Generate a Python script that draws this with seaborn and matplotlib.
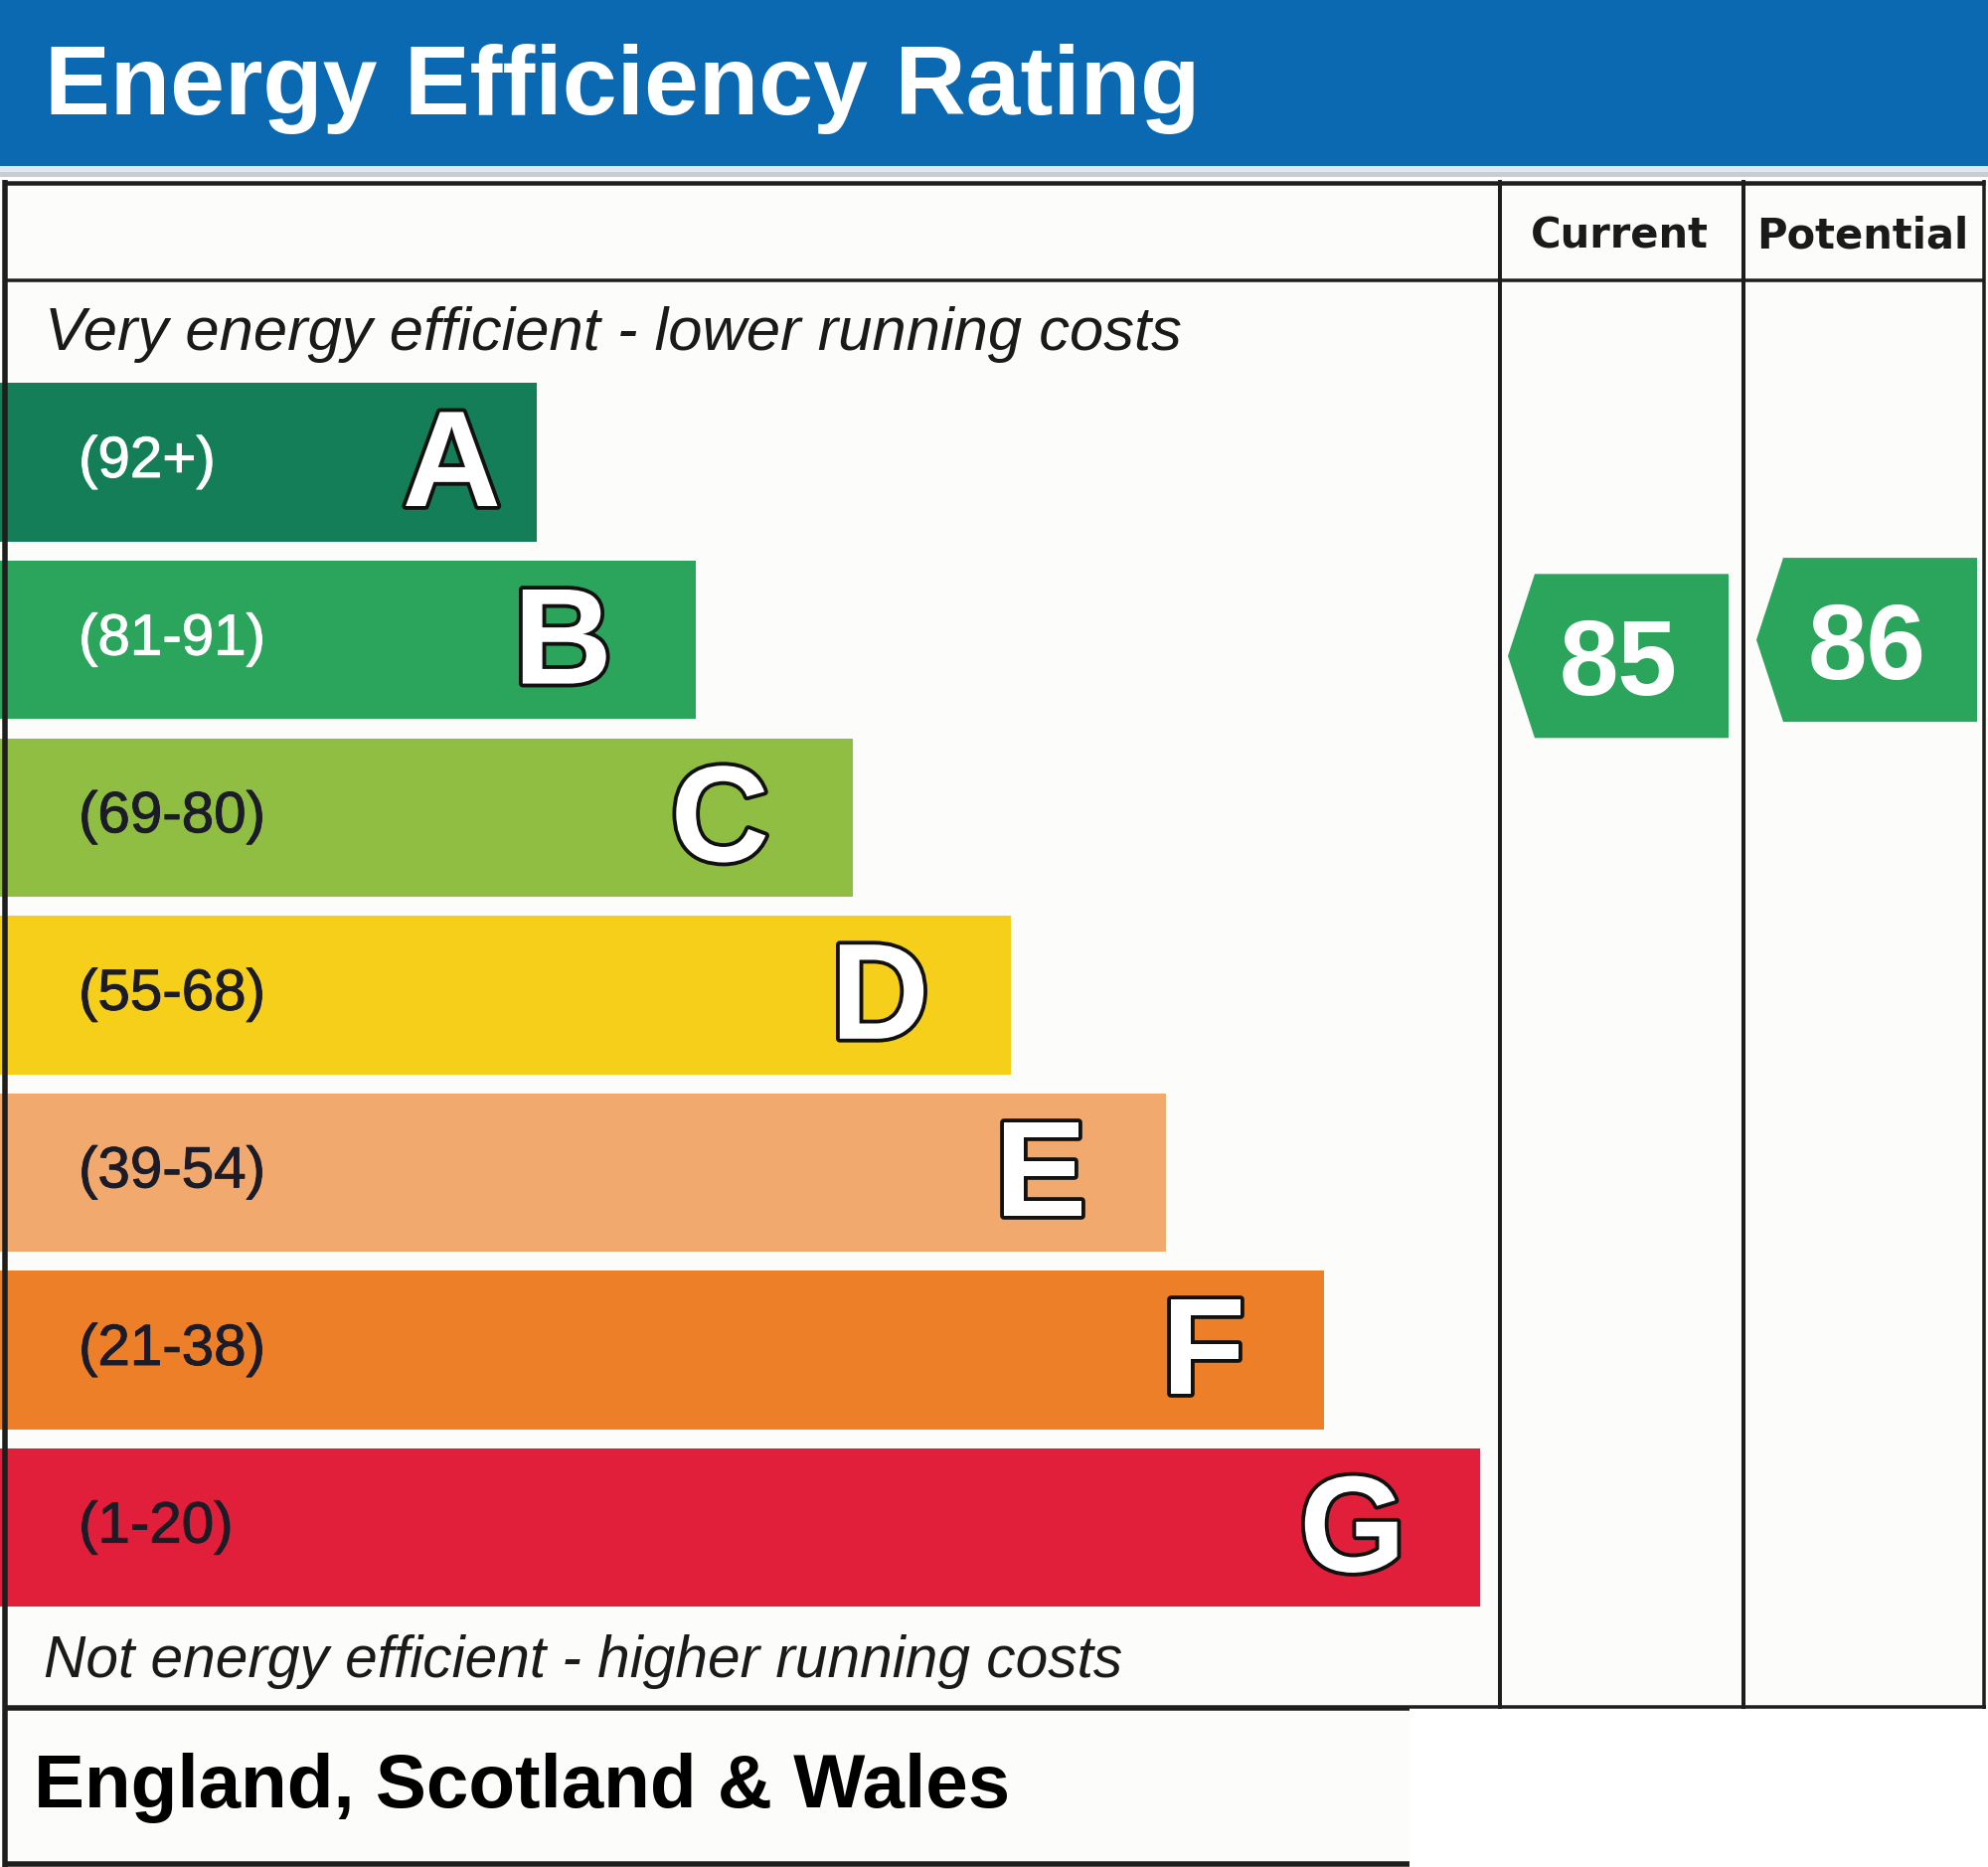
import matplotlib
matplotlib.use("Agg")
import matplotlib.pyplot as plt
import seaborn as sns
import pandas as pd
from matplotlib import patheffects as pe
from matplotlib.patches import Rectangle, Polygon

# ---------------- data ----------------
bands = ["A", "B", "C", "D", "E", "F", "G"]
band_ranges = ["(92+)", "(81-91)", "(69-80)", "(55-68)", "(39-54)", "(21-38)", "(1-20)"]
band_lo = [92, 81, 69, 55, 39, 21, 1]
band_hi = [100, 91, 80, 68, 54, 38, 20]
band_colors = ["#137e57", "#2ba55c", "#8fbe42", "#f5cf19", "#f2a96d", "#ec7f28", "#e11f3b"]
range_text_colors = ["white", "white", "#1c1c28", "#1c1c28", "#1c1c28", "#1c1c28", "#1c1c28"]
bar_ends = [540, 700, 858, 1017, 1173, 1332, 1489]   # bar lengths (px of the 2000 px wide canvas)
letter_inset = [36, 84, 84, 82, 80, 79, 75]

header_labels = ["Current", "Potential"]
ratings = [85, 86]               # current, potential
title = "Energy Efficiency Rating"
top_note = "Very energy efficient - lower running costs"
bottom_note = "Not energy efficient - higher running costs"
footer = "England, Scotland & Wales"

# ---------------- layout ----------------
W, H = 2000, 1878
LINE = "#1e1e1e"
PAPER = "#fcfcfa"
col_left = [1509, 1754]
col_right = [1754, 1997]

sns.set_theme(style="white")
plt.rcParams["font.family"] = ["Liberation Sans", "DejaVu Sans"]

fig = plt.figure(figsize=(W / 100, H / 100), dpi=100, facecolor="white")

bg = fig.add_axes([0, 0, 1, 1], zorder=0)
bg.set_xlim(0, W)
bg.set_ylim(H, 0)
bg.axis("off")

# paper areas
bg.add_patch(Rectangle((0, 182), W, 1535, color=PAPER, lw=0))
bg.add_patch(Rectangle((0, 1717), 1418, H - 1717, color=PAPER, lw=0))
# title band
bg.add_patch(Rectangle((0, 0), W, 167, color="#0b69b1", lw=0))
bg.add_patch(Rectangle((0, 167), W, 6, color="#dfe8f2", lw=0))
bg.add_patch(Rectangle((0, 173), W, 5, color="#c9ccd0", lw=0))
bg.text(45, 115, title, fontsize=71, weight="bold", color="white", va="baseline", ha="left")

# notes & footer
bg.text(45, 352, top_note, fontsize=44.3, style="italic", color="#1a1a1a", va="baseline")
bg.text(44, 1687, bottom_note, fontsize=42.2, style="italic", color="#1a1a1a", va="baseline")
bg.text(34, 1818, footer, fontsize=55, weight="bold", color="black", va="baseline")

# headers
for lab, l, r in zip(header_labels, col_left, col_right):
    bg.text((l + r) / 2 - 2, 250, lab, fontsize=30, weight="bold", color="#1a1a1a",
            family="DejaVu Sans", ha="center", va="baseline")

# ---------------- bars ----------------
pitch = 178.6
top_px = 465 - pitch / 2
bot_px = 465 + 6 * pitch + pitch / 2
bar_ax = fig.add_axes([0, 1 - bot_px / H, 1, (bot_px - top_px) / H], zorder=2)
bar_ax.patch.set_alpha(0)

df = pd.DataFrame({"band": bands, "end": bar_ends})
sns.barplot(data=df, x="end", y="band", hue="band", palette=band_colors, orient="h",
            width=159.4 / pitch, saturation=1, legend=False, ax=bar_ax, linewidth=0)
bar_ax.set_xlim(0, W)
bar_ax.set_ylim(6.5, -0.5)
bar_ax.axis("off")

lift = 6 / pitch
for i, (b, rng, end, ins, tc) in enumerate(zip(bands, band_ranges, bar_ends, letter_inset, range_text_colors)):
    bar_ax.text(79, i - lift, rng, fontsize=42, color=tc, ha="left", va="center_baseline",
                path_effects=[pe.withStroke(linewidth=0.7, foreground=tc)])
    bar_ax.text(end - ins, i - lift, b, fontsize=99, weight="bold", color="white", ha="right",
                va="center_baseline",
                path_effects=[pe.withStroke(linewidth=5.5, foreground="#111111")])


def rating_pos(v):
    for i, (lo, hi) in enumerate(zip(band_lo, band_hi)):
        if lo <= v <= hi:
            return i - 0.5 + (hi + 0.5 - v) / (hi - lo + 1)
    return 6.0


def band_of(v):
    for i, (lo, hi) in enumerate(zip(band_lo, band_hi)):
        if lo <= v <= hi:
            return i
    return 6


hh = 82.5 / pitch
arrow_geom = [(1517, 1544, 1739), (1767, 1794, 1989)]
for v, (tip, body, right) in zip(ratings, arrow_geom):
    y = rating_pos(v)
    poly = Polygon([(tip, y), (body, y - hh), (right, y - hh), (right, y + hh), (body, y + hh)],
                   closed=True, facecolor=band_colors[band_of(v)], edgecolor="none")
    bar_ax.add_patch(poly)
    bar_ax.text((tip + right) / 2, y, str(v), fontsize=77, weight="bold", color="white",
                ha="center", va="center_baseline")

# ---------------- frame lines ----------------
ov = fig.add_axes([0, 0, 1, 1], zorder=3)
ov.set_xlim(0, W)
ov.set_ylim(H, 0)
ov.axis("off")
ov.patch.set_alpha(0)


def px(w):
    return w * 72 / 100


ov.plot([3, 1997], [183.5, 183.5], color=LINE, lw=px(4.5), solid_capstyle="butt")
ov.plot([3, 1997], [282, 282], color=LINE, lw=px(3.5), solid_capstyle="butt")
ov.plot([5, 5], [181, H], color=LINE, lw=px(5.5), solid_capstyle="butt")
for x in col_left:
    ov.plot([x, x], [181, 1719], color=LINE, lw=px(4), solid_capstyle="butt")
ov.plot([1996, 1996], [181, 1719], color=LINE, lw=px(3.5), solid_capstyle="butt")
ov.plot([3, 1418], [1717.5, 1717.5], color=LINE, lw=px(5.5), solid_capstyle="butt")
ov.plot([1418, 1998], [1716.5, 1716.5], color=LINE, lw=px(3.5), solid_capstyle="butt")
ov.plot([3, 1418], [1874.5, 1874.5], color=LINE, lw=px(5.5), solid_capstyle="butt")

fig.savefig("out.png", dpi=100, facecolor="white")
